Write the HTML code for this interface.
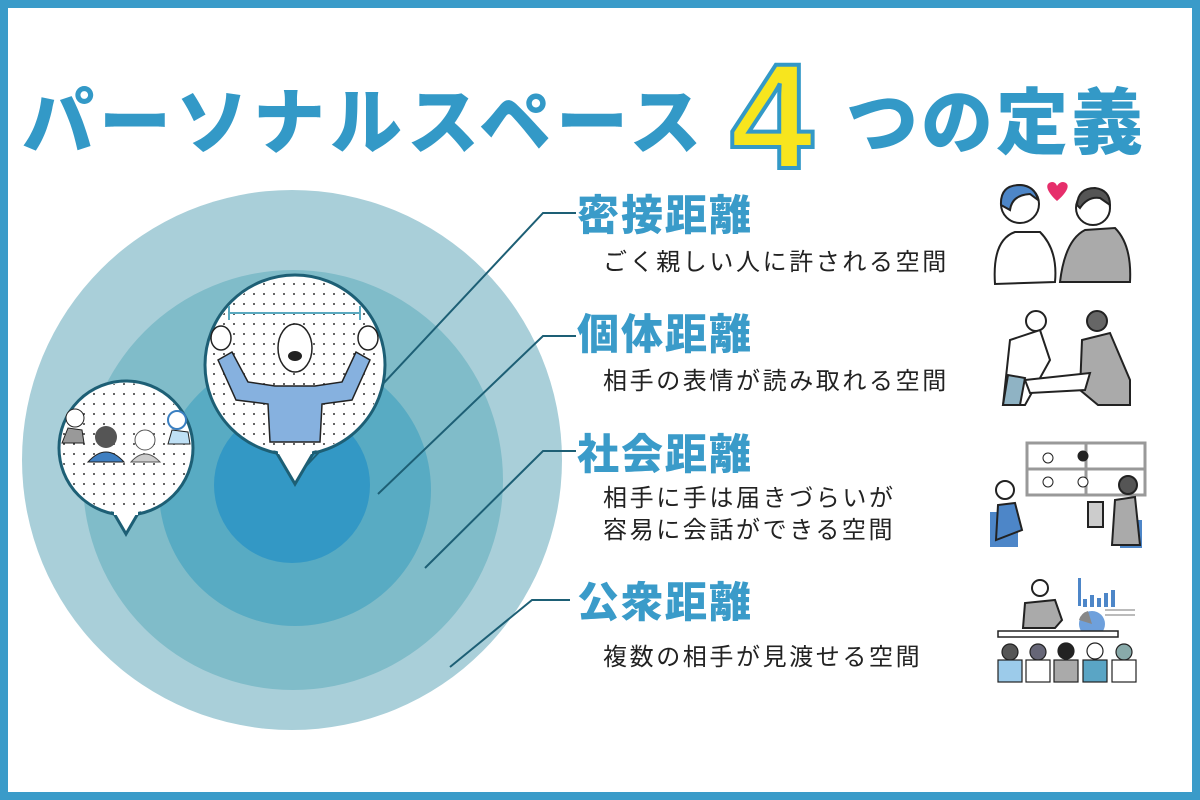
<!DOCTYPE html>
<html><head><meta charset="utf-8"><style>
body{margin:0;width:1200px;height:800px;overflow:hidden;background:#fff}
.frame{position:absolute;left:0;top:0;width:1184px;height:784px;border:8px solid #3a9bc9;background:#fff}
.t{position:absolute;font-family:"Liberation Sans","Noto Sans CJK JP",sans-serif;white-space:nowrap}
.h{color:#3a9bc9;font-size:42px;font-weight:900;left:577px;letter-spacing:2px}
.d{color:#222;font-size:24px;left:603px;line-height:32px;letter-spacing:2.6px}
</style></head><body>
<div class="frame"></div>
<div class="t" style="left:22px;top:64px;font-size:72px;font-weight:900;color:#3399c7;letter-spacing:5px">パーソナルスペース</div>
<div class="t" style="left:730px;top:30px;font-size:150px;font-weight:900;color:#f7e51e;-webkit-text-stroke:4px #3399c7;font-family:'Liberation Sans',sans-serif">4</div>
<div class="t" style="left:846px;top:64px;font-size:72px;font-weight:900;color:#3399c7;letter-spacing:3px">つの定義</div>

<svg width="1200" height="800" style="position:absolute;left:0;top:0">
<defs><pattern id="dots" width="10" height="10" patternUnits="userSpaceOnUse"><circle cx="4" cy="4" r="1" fill="#333"/></pattern></defs>
<circle cx="292" cy="460" r="270" fill="#a9cfd9"/>
<circle cx="293" cy="480" r="210" fill="#80bcc9"/>
<circle cx="295" cy="490" r="136" fill="#58abc3"/>
<circle cx="292" cy="485" r="78" fill="#3398c5"/>
<g stroke="#1d5f75" stroke-width="2" fill="none">
<polyline points="293,480 543,213 576,213"/>
<polyline points="378,494 543,336 576,336"/>
<polyline points="425,568 543,451 576,451"/>
<polyline points="450,667 532,600 570,600"/>
</g>
<g>
<circle cx="295" cy="365" r="90" fill="#fff" stroke="#1d5f75" stroke-width="3"/>
<polygon points="275,450 295,484 315,450" fill="#fff" stroke="#1d5f75" stroke-width="3"/>
<circle cx="295" cy="365" r="88" fill="#fff"/>
<rect x="278" y="440" width="34" height="14" fill="#fff"/>
<circle cx="295" cy="365" r="88" fill="url(#dots)"/>
<line x1="229" y1="313" x2="360" y2="313" stroke="#5aa9bf" stroke-width="2"/>
<line x1="229" y1="306" x2="229" y2="320" stroke="#5aa9bf" stroke-width="2"/>
<line x1="360" y1="306" x2="360" y2="320" stroke="#5aa9bf" stroke-width="2"/>
<path d="M218,360 L232,352 L248,382 L275,386 L315,386 L342,382 L356,352 L370,360 L352,400 L322,404 L320,442 L270,442 L268,404 L236,400 Z" fill="#86b1df" stroke="#222" stroke-width="1.5"/>
<ellipse cx="295" cy="348" rx="17" ry="24" fill="#fff" stroke="#222" stroke-width="1.5"/>
<ellipse cx="295" cy="356" rx="7" ry="5" fill="#222"/>
<ellipse cx="221" cy="338" rx="10" ry="12" fill="#fff" stroke="#222" stroke-width="1.5"/>
<ellipse cx="368" cy="338" rx="10" ry="12" fill="#fff" stroke="#222" stroke-width="1.5"/>
</g>
<g>
<circle cx="126" cy="448" r="67" fill="#fff" stroke="#1d5f75" stroke-width="3"/>
<polygon points="112,510 126,534 140,510" fill="#fff" stroke="#1d5f75" stroke-width="3"/>
<circle cx="126" cy="448" r="65" fill="#fff"/>
<rect x="114" y="505" width="24" height="10" fill="#fff"/>
<circle cx="126" cy="448" r="65" fill="url(#dots)"/>
<circle cx="75" cy="418" r="9" fill="#fff" stroke="#222"/><path d="M62,443 L68,428 L82,430 L84,443Z" fill="#999" stroke="#222"/>
<circle cx="106" cy="437" r="11" fill="#555"/><path d="M88,462 Q106,442 124,462Z" fill="#3f7fc1" stroke="#222"/>
<circle cx="145" cy="440" r="10" fill="#fff" stroke="#555"/><path d="M131,462 Q145,446 160,462Z" fill="#ccc" stroke="#555"/>
<circle cx="177" cy="420" r="9" fill="#fff" stroke="#3a7fc1" stroke-width="2"/><path d="M168,444 L172,430 L188,432 L190,444Z" fill="#bfe0f5" stroke="#222"/>
</g>
<g stroke="#222" stroke-width="2">
<path d="M1057,201 C1045,190 1045,183 1052,182 C1056,182 1057,186 1057,186 C1057,186 1059,182 1063,182 C1070,183 1070,190 1057,201Z" fill="#e62e6b" stroke="none"/>
<circle cx="1020" cy="204" r="19" fill="#fff"/><path d="M1001,205 Q1000,185 1020,185 Q1035,186 1038,200 L1030,194 Q1012,195 1010,210Z" fill="#4d86c8"/>
<path d="M995,284 Q992,240 1015,232 L1040,232 Q1058,250 1055,282 Z" fill="#fff"/>
<circle cx="1093" cy="208" r="17" fill="#fff"/><path d="M1077,205 Q1078,188 1095,188 Q1110,190 1110,205 L1100,198 Q1088,196 1080,208Z" fill="#555"/>
<path d="M1060,282 Q1065,240 1085,230 L1115,228 Q1132,245 1130,282Z" fill="#aaa"/>
<circle cx="1036" cy="321" r="10" fill="#fff"/><circle cx="1097" cy="321" r="10" fill="#666"/>
<path d="M1003,405 L1010,340 L1040,330 L1050,360 L1025,405Z" fill="#fff"/>
<path d="M1003,405 L1008,375 L1025,378 L1020,405Z" fill="#8fb3c4"/>
<path d="M1082,340 L1110,333 L1130,380 L1130,405 L1098,405 L1080,390 Z" fill="#aaa"/>
<path d="M1025,380 L1090,373 L1085,390 L1030,393Z" fill="#fff"/>
<rect x="1027" y="443" width="118" height="52" fill="#fff" stroke="#999" stroke-width="3"/>
<line x1="1086" y1="443" x2="1086" y2="495" stroke="#999" stroke-width="3"/><line x1="1027" y1="469" x2="1145" y2="469" stroke="#999" stroke-width="3"/>
<circle cx="1048" cy="458" r="5" fill="#fff" stroke-width="1"/><circle cx="1083" cy="456" r="5" fill="#222" stroke-width="1"/>
<circle cx="1048" cy="482" r="5" fill="#fff" stroke-width="1"/><circle cx="1083" cy="482" r="5" fill="#fff" stroke-width="1"/>
<rect x="990" y="512" width="28" height="35" fill="#4d86c8" stroke="none"/>
<circle cx="1005" cy="490" r="9" fill="#fff"/><path d="M996,540 L998,505 L1015,503 L1022,530 Z" fill="#4d86c8"/>
<rect x="1120" y="520" width="22" height="28" fill="#4d86c8" stroke="none"/>
<circle cx="1128" cy="485" r="9" fill="#555"/><path d="M1112,545 L1115,500 L1135,497 L1140,545 Z" fill="#aaa"/>
<rect x="1088" y="502" width="15" height="25" fill="#ccc"/>
<rect x="1078" y="578" width="3" height="28" fill="#4d86c8" stroke="none"/>
<g fill="#4d86c8" stroke="none"><rect x="1083" y="599" width="4" height="8"/><rect x="1090" y="595" width="4" height="12"/><rect x="1097" y="598" width="4" height="9"/><rect x="1104" y="593" width="4" height="14"/><rect x="1111" y="590" width="4" height="17"/></g>
<line x1="1105" y1="610" x2="1135" y2="610" stroke="#bbb" stroke-width="2"/><line x1="1105" y1="615" x2="1135" y2="615" stroke="#bbb" stroke-width="2"/>
<circle cx="1092" cy="624" r="13" fill="#6ea0dc" stroke="none"/><path d="M1092,624 L1079,620 A13,13 0 0 1 1088,611Z" fill="#888" stroke="none"/>
<circle cx="1040" cy="588" r="8" fill="#fff"/><path d="M1023,628 L1025,603 L1055,600 L1062,620 L1055,628Z" fill="#aaa"/>
<rect x="998" y="631" width="120" height="6" fill="#fff" stroke-width="1.5"/>
<g stroke-width="1.2"><circle cx="1010" cy="652" r="8" fill="#555"/><rect x="998" y="660" width="24" height="22" fill="#9ccbea"/>
<circle cx="1038" cy="652" r="8" fill="#667"/><rect x="1026" y="660" width="24" height="22" fill="#fff"/>
<circle cx="1066" cy="651" r="8" fill="#222"/><rect x="1054" y="660" width="24" height="22" fill="#aaa"/>
<circle cx="1095" cy="651" r="8" fill="#fff"/><rect x="1083" y="660" width="24" height="22" fill="#5aa5c5"/>
<circle cx="1124" cy="652" r="8" fill="#8aa"/><rect x="1112" y="660" width="24" height="22" fill="#fff"/></g>
</g>
</svg>

<div class="t h" style="top:182px">密接距離</div>
<div class="t d" style="top:247px">ごく親しい人に許される空間</div>
<div class="t h" style="top:301px">個体距離</div>
<div class="t d" style="top:366px">相手の表情が読み取れる空間</div>
<div class="t h" style="top:421px">社会距離</div>
<div class="t d" style="top:483px">相手に手は届きづらいが<br>容易に会話ができる空間</div>
<div class="t h" style="top:569px">公衆距離</div>
<div class="t d" style="top:642px">複数の相手が見渡せる空間</div>
</body></html>
